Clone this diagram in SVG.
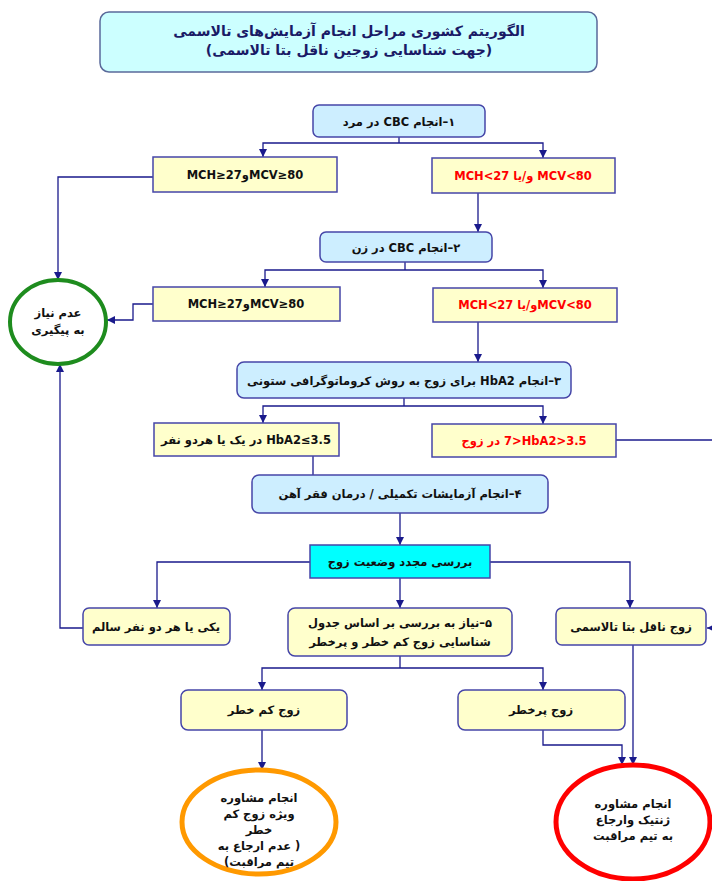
<svg xmlns="http://www.w3.org/2000/svg" width="712" height="881" viewBox="0 0 712 881">
<style>
.t{font-family:"DejaVu Sans",sans-serif;font-weight:bold;font-size:11.5px;direction:rtl;text-anchor:middle;fill:#111}
.red{fill:#ff0000}
.title{font-size:14px;fill:#1a1a66}
.bb{fill:#cdeeff;stroke:#4646a8;stroke-width:1.5}
.yb{fill:#ffffcc;stroke:#4646a8;stroke-width:1.5}
.cy{fill:#00ffff;stroke:#4646a8;stroke-width:1.5}
.c{fill:none;stroke:#1a1a8c;stroke-width:1.3}
</style>
<defs>
<marker id="a" markerUnits="userSpaceOnUse" markerWidth="9" markerHeight="9" refX="8" refY="4" orient="auto">
<path d="M0,0L8,4L0,8z" fill="#1a1a8c"/>
</marker>
</defs>
<rect width="712" height="881" fill="#fff"/>

<g id="title">
<rect x="100" y="12" width="497" height="60" rx="9" fill="#ccffff" stroke="#5a6a9a" stroke-width="1.5"/>
<text class="t title" x="349" y="36">الگوریتم کشوری مراحل انجام آزمایش‌های تالاسمی</text>
<text class="t title" x="349" y="55">(جهت شناسایی زوجین ناقل بتا تالاسمی)</text>
</g>

<g id="connectors">
<path class="c" d="M399,137V143"/>
<path class="c" d="M399,143H263V157" marker-end="url(#a)"/>
<path class="c" d="M399,143H543V158" marker-end="url(#a)"/>
<path class="c" d="M153,177H58V280" marker-end="url(#a)"/>
<path class="c" d="M478,193V232" marker-end="url(#a)"/>
<path class="c" d="M405,262V270"/>
<path class="c" d="M405,270H265V287" marker-end="url(#a)"/>
<path class="c" d="M405,270H543V288" marker-end="url(#a)"/>
<path class="c" d="M153,304H133V320H107" marker-end="url(#a)"/>
<path class="c" d="M478,322V362" marker-end="url(#a)"/>
<path class="c" d="M404,398V406"/>
<path class="c" d="M404,406H263V423" marker-end="url(#a)"/>
<path class="c" d="M404,406H543V424" marker-end="url(#a)"/>
<path class="c" d="M616,440H712"/>
<path class="c" d="M313,456V475"/>
<path class="c" d="M400,513V545" marker-end="url(#a)"/>
<path class="c" d="M310,562H157V608" marker-end="url(#a)"/>
<path class="c" d="M490,562H630V608" marker-end="url(#a)"/>
<path class="c" d="M400,578V608" marker-end="url(#a)"/>
<path class="c" d="M83,628H60V364" marker-end="url(#a)"/>
<path class="c" d="M718,628H707" marker-end="url(#a)"/>
<path class="c" d="M400,656V668"/>
<path class="c" d="M400,668H262V690" marker-end="url(#a)"/>
<path class="c" d="M400,668H543V690" marker-end="url(#a)"/>
<path class="c" d="M633,645V765" marker-end="url(#a)"/>
<path class="c" d="M543,730V745H622V765" marker-end="url(#a)"/>
<path class="c" d="M262,730V770" marker-end="url(#a)"/>
</g>

<g id="n1">
<rect class="bb" x="313" y="105" width="172" height="32" rx="6"/>
<text class="t" x="399" y="126">۱–انجام ⁦CBC⁩ در مرد</text>
</g>
<g id="nA">
<rect class="yb" x="153" y="157" width="184" height="35"/>
<text class="t" x="245" y="179">⁦MCV≥80⁩و⁦MCH≥27⁩</text>
</g>
<g id="nB">
<rect class="yb" x="432" y="158" width="183" height="35"/>
<text class="t red" x="523" y="180">⁦MCV&lt;80⁩ و/یا ⁦MCH&lt;27⁩</text>
</g>
<g id="n2">
<rect class="bb" x="320" y="232" width="172" height="30" rx="6"/>
<text class="t" x="406" y="252">۲–انجام ⁦CBC⁩ در زن</text>
</g>
<g id="nC">
<rect class="yb" x="153" y="287" width="187" height="34"/>
<text class="t" x="246" y="308">⁦MCV≥80⁩و⁦MCH≥27⁩</text>
</g>
<g id="nD">
<rect class="yb" x="433" y="288" width="184" height="34"/>
<text class="t red" x="525" y="309">⁦MCV&lt;80⁩و/یا ⁦MCH&lt;27⁩</text>
</g>
<g id="nNo">
<ellipse cx="58" cy="322" rx="48" ry="42" fill="#fff" stroke="#1e8c1e" stroke-width="4"/>
<text class="t" x="58" y="317">عدم نیاز</text>
<text class="t" x="58" y="334">به پیگیری</text>
</g>
<g id="n3">
<rect class="bb" x="237" y="362" width="334" height="36" rx="7"/>
<text class="t" x="404" y="385">۳–انجام ⁦HbA2⁩ برای زوج به روش کروماتوگرافی ستونی</text>
</g>
<g id="nE">
<rect class="yb" x="154" y="423" width="185" height="33"/>
<text class="t" x="246" y="444">⁦HbA2≤3.5⁩ در یک یا هردو نفر</text>
</g>
<g id="nF">
<rect class="yb" x="432" y="424" width="184" height="33"/>
<text class="t red" x="524" y="445">⁦7&gt;HbA2&gt;3.5⁩ در زوج</text>
</g>
<g id="n4">
<rect class="bb" x="252" y="475" width="296" height="38" rx="7"/>
<text class="t" x="400" y="498">۴–انجام آزمایشات تکمیلی / درمان فقر آهن</text>
</g>
<g id="nR">
<rect class="cy" x="310" y="545" width="180" height="33"/>
<text class="t" x="400" y="566">بررسی مجدد وضعیت زوج</text>
</g>
<g id="nG">
<rect class="yb" x="83" y="608" width="147" height="37" rx="6"/>
<text class="t" x="156" y="631">یکی یا هر دو نفر سالم</text>
</g>
<g id="n5">
<rect class="yb" x="288" y="608" width="224" height="48" rx="7"/>
<text class="t" x="400" y="627">۵–نیاز به بررسی بر اساس جدول</text>
<text class="t" x="400" y="646">شناسایی زوج کم خطر و پرخطر</text>
</g>
<g id="nH">
<rect class="yb" x="556" y="608" width="150" height="37" rx="6"/>
<text class="t" x="631" y="631">زوج ناقل بتا تالاسمی</text>
</g>
<g id="nI">
<rect class="yb" x="181" y="690" width="166" height="40" rx="7"/>
<text class="t" x="264" y="714">زوج کم خطر</text>
</g>
<g id="nJ">
<rect class="yb" x="458" y="690" width="167" height="40" rx="7"/>
<text class="t" x="541" y="714">زوج پرخطر</text>
</g>
<g id="nO">
<ellipse cx="259" cy="822" rx="77" ry="52" fill="#fff" stroke="#ff9900" stroke-width="5"/>
<text class="t" x="259" y="802">انجام مشاوره</text>
<text class="t" x="259" y="818">ویژه زوج کم</text>
<text class="t" x="259" y="834">خطر</text>
<text class="t" x="259" y="850">( عدم ارجاع به</text>
<text class="t" x="259" y="866">تیم مراقبت)</text>
</g>
<g id="nRed">
<ellipse cx="633" cy="822" rx="77" ry="57" fill="#fff" stroke="#ff0000" stroke-width="5"/>
<text class="t" x="633" y="808">انجام مشاوره</text>
<text class="t" x="633" y="824">ژنتیک وارجاع</text>
<text class="t" x="633" y="840">به تیم مراقبت</text>
</g>
</svg>
